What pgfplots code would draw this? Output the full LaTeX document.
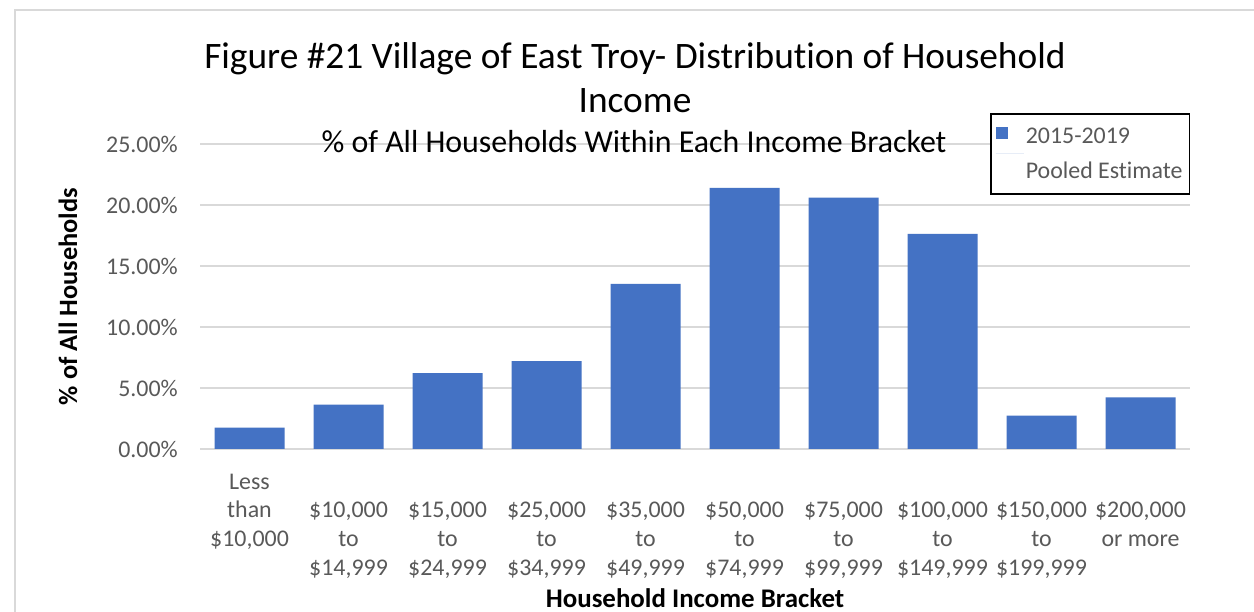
\documentclass[border=0pt]{standalone}
\usepackage{pgfplots}
\pgfplotsset{compat=1.18}
\usepackage{fontspec}
\setmainfont{Carlito}[Ligatures=NoCommon]
\definecolor{barblue}{HTML}{4472C4}
\definecolor{tickgray}{HTML}{595959}
\definecolor{gridgray}{HTML}{D9D9D9}
\begin{document}
\begin{tikzpicture}[x=1bp,y=1bp]
\useasboundingbox (0,0) rectangle (1254,612);
\fill[white] (0,0) rectangle (1254,612);
\draw[gridgray, line width=1.5bp] (15,0) -- (15,602) -- (1260,602);
\begin{axis}[
  at={(200bp,163bp)}, anchor=south west,
  scale only axis, width=990bp, height=305bp,
  xmin=-0.5, xmax=9.5, ymin=0, ymax=25,
  ytick={0,5,10,15,20,25},
  xtick={0,...,9},
  xticklabels={
    {\strut Less\\\strut than\\\strut \$10,000},
    {\strut\\\strut \$10,000\\\strut to\\\strut \$14,999},
    {\strut\\\strut \$15,000\\\strut to\\\strut \$24,999},
    {\strut\\\strut \$25,000\\\strut to\\\strut \$34,999},
    {\strut\\\strut \$35,000\\\strut to\\\strut \$49,999},
    {\strut\\\strut \$50,000\\\strut to\\\strut \$74,999},
    {\strut\\\strut \$75,000\\\strut to\\\strut \$99,999},
    {\strut\\\strut \$100,000\\\strut to\\\strut \$149,999},
    {\strut\\\strut \$150,000\\\strut to\\\strut \$199,999},
    {\strut\\\strut \$200,000\\\strut or more\\\strut}},
  major tick length=0pt,
  axis line style={draw=none},
  axis x line*=bottom,
  ymajorgrids, grid style={gridgray, line width=1.5bp},
  yticklabel={\pgfmathprintnumber[fixed,fixed zerofill,precision=2]{\tick}\%},
  /pgf/number format/assume math mode=true,
  ticklabel style={font=\fontsize{24}{28.8}\selectfont, text=tickgray},
  yticklabel style={inner sep=0pt, xshift=-22bp, anchor=east},
  xticklabel style={align=center, inner sep=0pt, anchor=north, yshift=-20bp},
  ylabel={\textbf{\% of All Households}},
  ylabel style={at={(axis description cs:-0.1333,0.5)}, anchor=center, font=\fontsize{26.5}{30}\selectfont},
  xlabel={\textbf{Household Income Bracket}},
  xlabel style={at={(axis description cs:0.5,-0.4885)}, anchor=center, font=\fontsize{27}{30}\selectfont},
  title={Figure \#21 Village of East Troy- Distribution of Household\\Income},
  title style={at={(axis description cs:0.4394,1.198)}, anchor=center, align=center, font=\fontsize{37.5}{45}\selectfont},
  legend style={at={(0.798,1.1016)}, anchor=north west, draw=black, line width=1.5bp,
    font=\fontsize{24}{34.5}\selectfont, text=tickgray, inner xsep=5bp, inner ysep=12.5bp,
    cells={align=left}},
  legend image code/.code={\fill[barblue] (0bp,15bp) rectangle (12bp,27bp); \path (0bp,0bp) -- (28bp,0bp);},
  clip=false,
]
\addplot[ybar, bar width=70bp, fill=barblue, draw=none] coordinates {
  (0,1.76) (1,3.64) (2,6.22) (3,7.20) (4,13.54)
  (5,21.40) (6,20.60) (7,17.64) (8,2.74) (9,4.24)};
\addlegendentry{2015-2019\\Pooled Estimate}
\node[font=\fontsize{32}{36}\selectfont, anchor=center] at (axis description cs:0.4384,1.0066) {\% of All Households Within Each Income Bracket};
\end{axis}
\end{tikzpicture}
\end{document}
